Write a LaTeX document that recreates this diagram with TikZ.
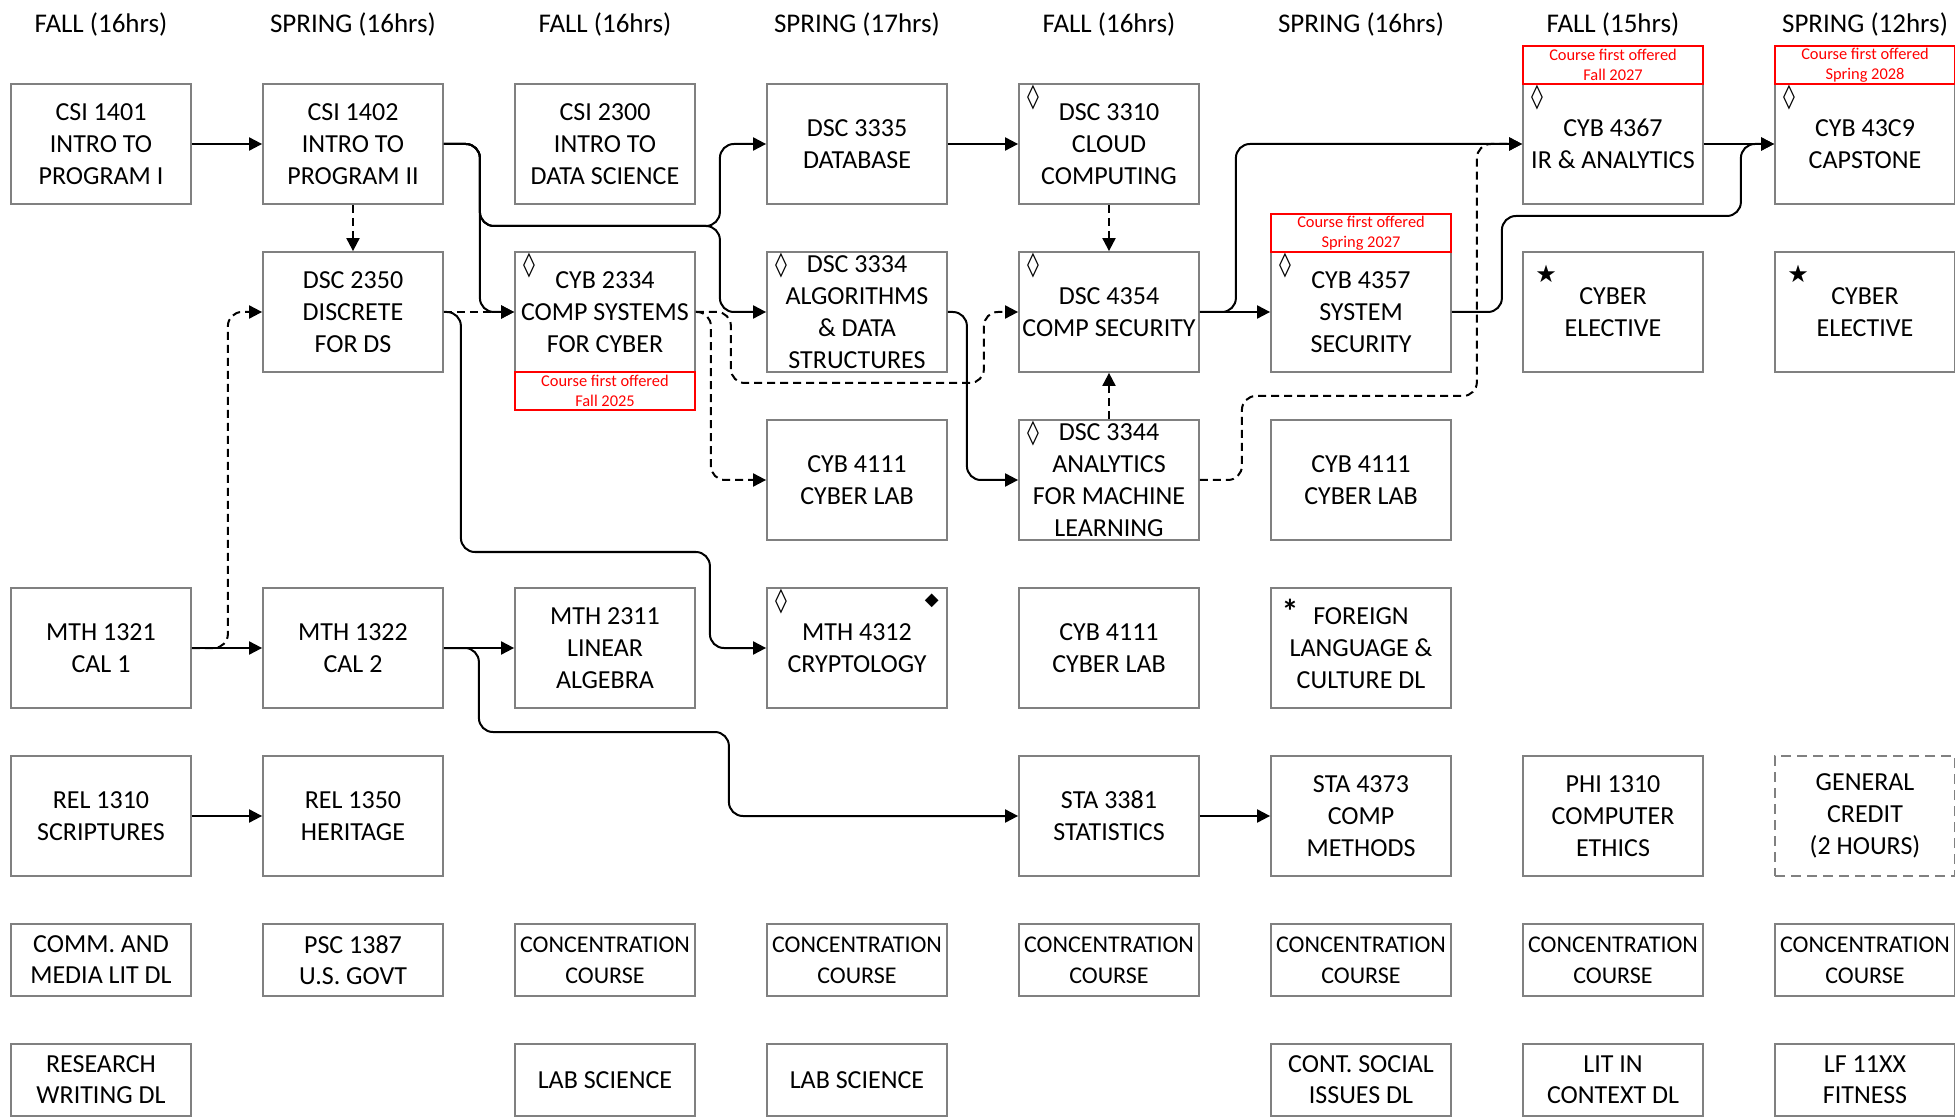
\documentclass[tikz,border=0pt]{standalone}
\usepackage{fontspec}
\setmainfont{Carlito}
\newfontfamily\symfont{DejaVu Sans}
\usetikzlibrary{arrows.meta}

\begin{document}
\begin{tikzpicture}[x=0.5pt, y=-0.5pt, >={Triangle[length=6.5pt,width=6.5pt]},
    course/.style={draw=gray, line width=0.9pt, minimum width=90pt, minimum height=60pt,
        inner sep=0pt, align=center, font=\fontsize{13}{16}\selectfont},
    short/.style={course, minimum height=36pt, font=\fontsize{13}{15.5}\selectfont},
    conc/.style={short, font=\fontsize{12}{15.5}\selectfont},
    note/.style={draw=red, line width=0.9pt, minimum width=90pt, minimum height=19pt,
        inner sep=0pt, align=center, text=red, font=\fontsize{8.2}{10}\selectfont},
    term/.style={anchor=base, font=\fontsize{13.5}{16}\selectfont},
    diam/.style={label={[anchor=center, xshift=7.5pt, yshift=-7.5pt, font=\symfont\bfseries\fontsize{12}{12}\selectfont]north west:◊}},
    fdiam/.style={label={[anchor=center, xshift=-8pt, yshift=-7pt, font=\symfont\fontsize{9}{9}\selectfont]north east:◆}},
    elect/.style={label={[anchor=center, xshift=12pt, yshift=-11.5pt, font=\symfont\fontsize{12}{12}\selectfont]north west:★}},
    astr/.style={label={[anchor=center, xshift=10pt, yshift=-12pt, font=\fontsize{17}{17}\selectfont\bfseries]north west:*}},
    link/.style={->, line width=1pt, rounded corners=7pt},
    dlink/.style={link, dash pattern=on 4pt off 2.5pt}]
    \useasboundingbox (0,0) rectangle (1955,1117);

    % Terms
    \node[term] (t1) at (101,33) {FALL (16hrs)};
    \node[term] (t2) at (353,33) {SPRING (16hrs)};
    \node[term] (t3) at (605,33) {FALL (16hrs)};
    \node[term] (t4) at (857,33) {SPRING (17hrs)};
    \node[term] (t5) at (1109,33) {FALL (16hrs)};
    \node[term] (t6) at (1361,33) {SPRING (16hrs)};
    \node[term] (t7) at (1613,33) {FALL (15hrs)};
    \node[term] (t8) at (1865,33) {SPRING (12hrs)};

    % Programming / data row
    \node[course] (csi1401) at (101,144) {CSI 1401\\INTRO TO\\PROGRAM I};
    \node[course] (csi1402) at (353,144) {CSI 1402\\INTRO TO\\PROGRAM II};
    \node[course] (csi2300) at (605,144) {CSI 2300\\INTRO TO\\DATA SCIENCE};
    \node[course] (dsc3335) at (857,144) {DSC 3335\\DATABASE};
    \node[course, diam] (dsc3310) at (1109,144) {DSC 3310\\CLOUD\\COMPUTING};
    \node[course, diam] (cyb4367) at (1613,144) {CYB 4367\\IR \& ANALYTICS};
    \node[course, diam] (cyb43c9) at (1865,144) {CYB 43C9\\CAPSTONE};

    % Core row
    \node[course] (dsc2350) at (353,312) {DSC 2350\\DISCRETE\\FOR DS};
    \node[course, diam] (cyb2334) at (605,312) {CYB 2334\\COMP SYSTEMS\\FOR CYBER};
    \node[course, diam] (dsc3334) at (857,312) {DSC 3334\\ALGORITHMS\\\& DATA\\STRUCTURES};
    \node[course, diam] (dsc4354) at (1109,312) {DSC 4354\\COMP SECURITY};
    \node[course, diam] (cyb4357) at (1361,312) {CYB 4357\\SYSTEM\\SECURITY};
    \node[course, elect] (elec1) at (1613,312) {CYBER\\ELECTIVE};
    \node[course, elect] (elec2) at (1865,312) {CYBER\\ELECTIVE};

    % New course notes
    \node[note] (note1) at (605,391) {Course first offered\\Fall 2025};
    \node[note] (note2) at (1361,233) {Course first offered\\Spring 2027};
    \node[note] (note3) at (1613,65) {Course first offered\\Fall 2027};
    \node[note] (note4) at (1865,65) {Course first offered\\Spring 2028};

    % Labs
    \node[course] (lab1) at (857,480) {CYB 4111\\CYBER LAB};
    \node[course, diam] (dsc3344) at (1109,480) {DSC 3344\\ANALYTICS\\FOR MACHINE\\LEARNING};
    \node[course] (lab2) at (1361,480) {CYB 4111\\CYBER LAB};

    % Math row
    \node[course] (mth1321) at (101,648) {MTH 1321\\CAL 1};
    \node[course] (mth1322) at (353,648) {MTH 1322\\CAL 2};
    \node[course] (mth2311) at (605,648) {MTH 2311\\LINEAR\\ALGEBRA};
    \node[course, diam, fdiam] (mth4312) at (857,648) {MTH 4312\\CRYPTOLOGY};
    \node[course] (lab3) at (1109,648) {CYB 4111\\CYBER LAB};
    \node[course, astr] (flang) at (1361,648) {FOREIGN\\LANGUAGE \&\\CULTURE DL};

    % Religion / statistics row
    \node[course] (rel1310) at (101,816) {REL 1310\\SCRIPTURES};
    \node[course] (rel1350) at (353,816) {REL 1350\\HERITAGE};
    \node[course] (sta3381) at (1109,816) {STA 3381\\STATISTICS};
    \node[course] (sta4373) at (1361,816) {STA 4373\\COMP\\METHODS};
    \node[course] (phi1310) at (1613,816) {PHI 1310\\COMPUTER\\ETHICS};
    \node[course, dash pattern=on 5pt off 3pt] (gen) at (1865,816) {GENERAL\\CREDIT\\(2 HOURS)};

    % Concentration row
    \node[short] (comm) at (101,960) {COMM. AND\\MEDIA LIT DL};
    \node[short] (psc1387) at (353,960) {PSC 1387\\U.S. GOVT};
    \node[conc] (conc1) at (605,960) {CONCENTRATION\\COURSE};
    \node[conc] (conc2) at (857,960) {CONCENTRATION\\COURSE};
    \node[conc] (conc3) at (1109,960) {CONCENTRATION\\COURSE};
    \node[conc] (conc4) at (1361,960) {CONCENTRATION\\COURSE};
    \node[conc] (conc5) at (1613,960) {CONCENTRATION\\COURSE};
    \node[conc] (conc6) at (1865,960) {CONCENTRATION\\COURSE};

    % Gen ed row
    \node[short] (rwrit) at (101,1080) {RESEARCH\\WRITING DL};
    \node[short] (lsci1) at (605,1080) {LAB SCIENCE};
    \node[short] (lsci2) at (857,1080) {LAB SCIENCE};
    \node[short] (social) at (1361,1080) {CONT. SOCIAL\\ISSUES DL};
    \node[short] (litctx) at (1613,1080) {LIT IN\\CONTEXT DL};
    \node[short] (lf11xx) at (1865,1080) {LF 11XX\\FITNESS};

    % Prerequisites
    \draw[link] (csi1401.east) -- (csi1402.west);
    \draw[dlink] (csi1402.south) -- (dsc2350.north);
    \draw[link] (csi1402.east) -- ++(36,0) |- (cyb2334.west);
    \draw[link] (csi1402.east) -- ++(36,0) -- ++(0,82) -- ++(240,0) |- (dsc3335.west);
    \draw[link] (csi1402.east) -- ++(36,0) -- ++(0,82) -- ++(240,0) |- (dsc3334.west);
    \draw[dlink] (dsc2350.east) -- (cyb2334.west);
    \draw[link] (dsc2350.east) -- ++(17,0) -- ++(0,240) -- ++(249,0) |- (mth4312.west);
    \draw[link] (mth1321.east) -- (mth1322.west);
    \draw[dlink] (mth1321.east) -- ++(36,0) |- (dsc2350.west);
    \draw[link] (mth1322.east) -- (mth2311.west);
    \draw[link] (mth1322.east) -- ++(35,0) -- ++(0,84) -- ++(250,0) |- (sta3381.west);
    \draw[link] (rel1310.east) -- (rel1350.west);
    \draw[link] (sta3381.east) -- (sta4373.west);
    \draw[dlink] (cyb2334.east) -- ++(15,0) |- (lab1.west);
    \draw[dlink] (cyb2334.east) -- ++(35,0) -- ++(0,71) -- ++(253,0) |- (dsc4354.west);
    \draw[link] (dsc3335.east) -- (dsc3310.west);
    \draw[dlink] (dsc3310.south) -- (dsc4354.north);
    \draw[dlink] (dsc3344.north) -- (dsc4354.south);
    \draw[link] (dsc3334.east) -- ++(19,0) |- (dsc3344.west);
    \draw[link] (dsc4354.east) -- (cyb4357.west);
    \draw[link] (dsc4354.east) -- ++(36,0) |- (cyb4367.west);
    \draw[dlink] (dsc3344.east) -- ++(42,0) -- ++(0,-84) -- ++(235,0) |- (cyb4367.west);
    \draw[link] (cyb4357.east) -- ++(50,0) -- ++(0,-96) -- ++(239,0) |- (cyb43c9.west);
    \draw[link] (cyb4367.east) -- (cyb43c9.west);

\end{tikzpicture}
\end{document}
